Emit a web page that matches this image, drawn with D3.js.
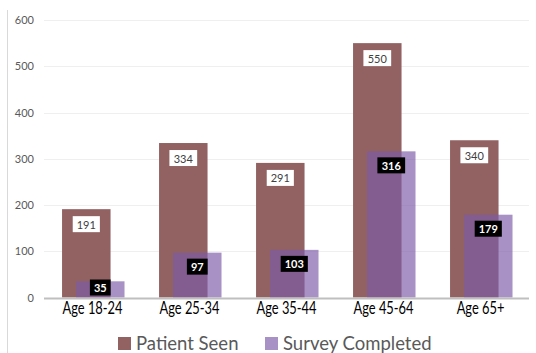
<!DOCTYPE html>
<html>
<head>
<meta charset="utf-8">
<script src="https://cdn.jsdelivr.net/npm/d3@7"></script>
<style>
  html, body { margin: 0; padding: 0; background: #fff; }
  svg { display: block; }
</style>
</head>
<body>
<svg id="chart" width="536" height="353"></svg>
<script>
// Age groups and counts
const categories = ["Age 18-24", "Age 25-34", "Age 35-44", "Age 45-64", "Age 65+"];
const patientSeen = [191, 334, 291, 550, 340];
const surveyCompleted = [35, 97, 103, 316, 179];
const yTicks = [0, 100, 200, 300, 400, 500, 600];
const seriesNames = ["Patient Seen", "Survey Completed"];

const colors = { seen: "#926262", survey: "#7d5ba7" };
const font = "Lato, 'Open Sans', sans-serif";

const svg = d3.select("#chart");
const W = 536, H = 353;

const x = d3.scaleBand().domain(categories).range([44, 529]).padding(0);
const y = d3.scaleLinear().domain([0, 600]).range([297.5, 20]);

// left frame line
svg.append("line")
  .attr("x1", 7.5).attr("x2", 7.5).attr("y1", 10).attr("y2", H)
  .attr("stroke", "#d9d9d9").attr("stroke-width", 1);

// gridlines
svg.append("g").selectAll("line")
  .data(yTicks.filter(t => t > 0))
  .join("line")
  .attr("x1", 44).attr("x2", 529)
  .attr("y1", d => Math.round(y(d)) + 0.5).attr("y2", d => Math.round(y(d)) + 0.5)
  .attr("stroke", "#efefef").attr("stroke-width", 1);

// y axis labels
const yAxis = d3.axisLeft(y).tickValues(yTicks).tickSize(0).tickPadding(0);
const yg = svg.append("g").attr("transform", "translate(34,0)").call(yAxis);
yg.select(".domain").remove();
yg.selectAll("text")
  .attr("fill", "#595959")
  .attr("font-family", font)
  .attr("font-size", 11);

const bw = x.bandwidth();
const barW = bw * 0.5;
const seenOff = bw * 0.186;
const surveyOff = bw * 0.33;

// patient seen bars
svg.append("g").selectAll("rect")
  .data(categories)
  .join("rect")
  .attr("x", (d) => x(d) + seenOff)
  .attr("width", barW)
  .attr("y", (d, i) => y(patientSeen[i]))
  .attr("height", (d, i) => y(0) - y(patientSeen[i]))
  .attr("fill", colors.seen);

// survey completed bars (translucent, overlapping)
svg.append("g").selectAll("rect")
  .data(categories)
  .join("rect")
  .attr("x", (d) => x(d) + surveyOff)
  .attr("width", barW)
  .attr("y", (d, i) => y(surveyCompleted[i]))
  .attr("height", (d, i) => y(0) - y(surveyCompleted[i]))
  .attr("fill", colors.survey)
  .attr("fill-opacity", 0.67);

// baseline
svg.append("line")
  .attr("x1", 44).attr("x2", 529)
  .attr("y1", y(0) + 1).attr("y2", y(0) + 1)
  .attr("stroke", "#bfbfbf").attr("stroke-width", 2);

// x axis labels (horizontally condensed)
const xAxis = d3.axisBottom(x).tickSize(0).tickPadding(0);
const xg = svg.append("g").attr("transform", `translate(0,${y(0) + 5})`).call(xAxis);
xg.select(".domain").remove();
xg.selectAll("text")
  .attr("fill", "#000")
  .attr("font-family", font)
  .attr("font-size", 16.5)
  .attr("transform", "scale(0.78,1)");

// value labels
function addLabel(cx, cy, text, bg, fg, weight) {
  const g = svg.append("g");
  const t = g.append("text")
    .attr("x", cx).attr("y", cy)
    .attr("text-anchor", "middle")
    .attr("dominant-baseline", "central")
    .attr("font-family", font)
    .attr("font-size", 11)
    .attr("font-weight", weight)
    .attr("fill", fg)
    .text(text);
  const bb = t.node().getBBox();
  g.insert("rect", "text")
    .attr("x", cx - bb.width / 2 - 4)
    .attr("y", cy - 8)
    .attr("width", bb.width + 8)
    .attr("height", 16)
    .attr("fill", bg);
}

categories.forEach((c, i) => {
  addLabel(x(c) + seenOff + barW / 2, y(patientSeen[i]) + 15,
    patientSeen[i], "#ffffff", "#404040", "normal");
});
categories.forEach((c, i) => {
  const cy = Math.min(y(surveyCompleted[i]) + 14, y(0) - 10);
  addLabel(x(c) + surveyOff + barW / 2, cy,
    surveyCompleted[i], "#000000", "#ffffff", "bold");
});

// legend
const legend = svg.append("g").attr("transform", "translate(0,350)");
const legendItems = [
  { name: seriesNames[0], color: colors.seen, opacity: 1, x: 118 },
  { name: seriesNames[1], color: colors.survey, opacity: 0.67, x: 265 }
];
legendItems.forEach(it => {
  legend.append("rect")
    .attr("x", it.x).attr("y", -13)
    .attr("width", 13).attr("height", 13)
    .attr("fill", it.color).attr("fill-opacity", it.opacity);
  legend.append("text")
    .attr("x", it.x + 18).attr("y", 0)
    .attr("font-family", font)
    .attr("font-size", 18.5)
    .attr("fill", "#595959")
    .text(it.name);
});
</script>
</body>
</html>
